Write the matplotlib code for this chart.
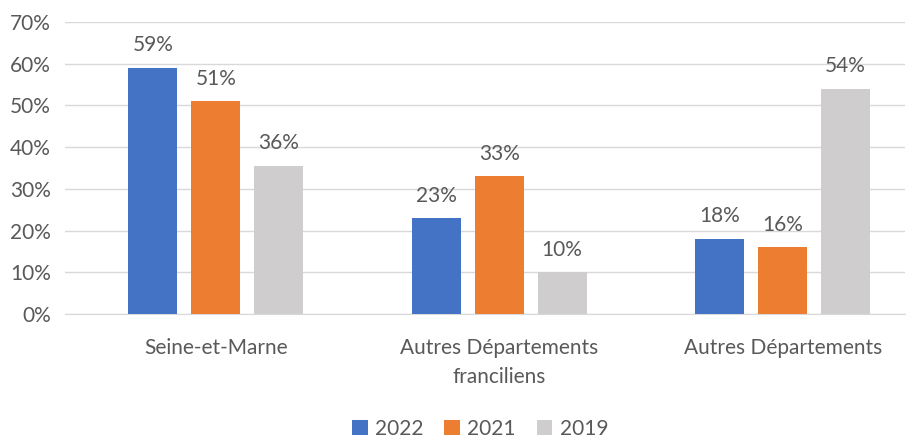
import matplotlib.pyplot as plt
import numpy as np

plt.rcParams['font.family'] = ['Lato', 'DejaVu Sans']

categories = ['Seine-et-Marne', 'Autres Départements\nfranciliens', 'Autres Départements']
years = ['2022', '2021', '2019']
v2022 = [59, 23, 18]
v2021 = [51, 33, 16]
v2019 = [35.5, 10, 54]
colors = ['#4472C4', '#ED7D31', '#CFCDCD']
txt = '#595959'

fig = plt.figure(figsize=(9.11, 4.38), dpi=100)
ax = fig.add_axes([0.071, 0.283, 0.922, 0.667])

x = np.arange(len(categories))
w = 0.173
step = 0.222
for i, (vals, lab, c) in enumerate(zip([v2022, v2021, v2019], years, colors)):
    bars = ax.bar(x + (i - 1) * step, vals, w, color=c, label=lab, zorder=3)
    for b, v in zip(bars, vals):
        ax.annotate(f'{v:.0f}%', (b.get_x() + b.get_width() / 2, v),
                    xytext=(0, 9), textcoords='offset points',
                    ha='center', va='bottom', fontsize=15, color=txt)

ax.set_xlim(-0.533, 2.43)
ax.set_ylim(0, 70)
ax.set_yticks(range(0, 71, 10))
ax.set_yticklabels([f'{t}%' for t in range(0, 71, 10)])
ax.set_xticks(x)
ax.set_xticklabels(categories, linespacing=1.6)
ax.tick_params(axis='both', length=0, labelsize=15, colors=txt)
ax.tick_params(axis='x', pad=17)
ax.tick_params(axis='y', pad=10)
ax.grid(axis='y', color='#D9D9D9', linewidth=1, zorder=0)
for s in ['top', 'right', 'left']:
    ax.spines[s].set_visible(False)
ax.spines['bottom'].set_color('#D9D9D9')

fig.legend(loc='lower center', bbox_to_anchor=(0.527, -0.045), ncol=3, frameon=False,
           fontsize=15, handlelength=0.75, handleheight=0.75, columnspacing=1.0,
           handletextpad=0.35, labelcolor=txt)

fig.savefig('out.png', dpi=100)
